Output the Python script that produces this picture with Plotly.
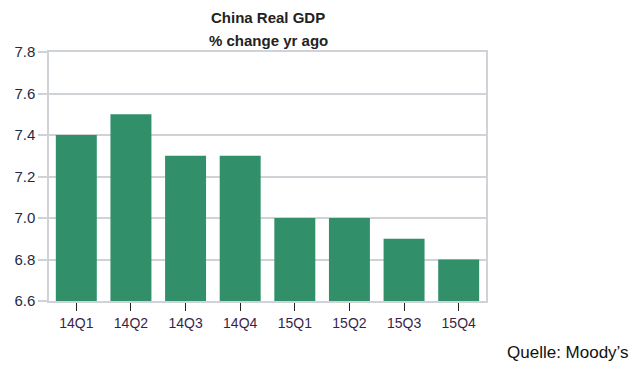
import plotly.graph_objects as go

quarters = ["14Q1", "14Q2", "14Q3", "14Q4", "15Q1", "15Q2", "15Q3", "15Q4"]
gdp_growth = [7.4, 7.5, 7.3, 7.3, 7.0, 7.0, 6.9, 6.8]
y_ticks = [6.6, 6.8, 7.0, 7.2, 7.4, 7.6, 7.8]
y_tick_labels = ["6.6", "6.8", "7.0", "7.2", "7.4", "7.6", "7.8"]
axis_base = 6.6

# page body has an 8px margin: figure is laid out in page pixels minus that offset
OFF = 8
W, H = 639 - OFF, 372 - OFF
L = 49 - OFF
R = 639 - 486
T = 52 - OFF
B = 372 - 301
plot_w = W - L - R
plot_h = H - T - B

def px_to_paper(xp, yp):
    return (xp - OFF - L) / plot_w, 1 - (yp - OFF - T) / plot_h

fig = go.Figure(go.Bar(
    x=quarters, y=[v - axis_base for v in gdp_growth], base=axis_base,
    marker=dict(color="#31906a", line=dict(width=0)),
    hovertext=[str(v) for v in gdp_growth],
))

tx, ty1 = px_to_paper(268, 17)
_, ty2 = px_to_paper(268, 40)
qx, qy = px_to_paper(505, 352)

fig.update_layout(
    width=W, height=H,
    margin=dict(l=L, r=R, t=T, b=B),
    paper_bgcolor="white", plot_bgcolor="white",
    bargap=0.25,
    showlegend=False,
    font=dict(family="Liberation Sans, Arial, sans-serif"),
    xaxis=dict(
        automargin=False,
        showline=True, linecolor="#cfd3d8", linewidth=1.5, mirror=True,
        ticks="outside", ticklen=8, tickcolor="#222222", tickwidth=1,
        tickfont=dict(size=14, color="#3a1f4a"),
        showgrid=False,
    ),
    yaxis=dict(
        automargin=False,
        range=[6.6, 7.8], tickvals=y_ticks, ticktext=y_tick_labels,
        showline=True, linecolor="#cfd3d8", linewidth=1.5, mirror=True,
        ticks="outside", ticklen=9, tickcolor="#cfd3d8", tickwidth=1.5,
        tickfont=dict(size=15, color="#1f2a44"),
        showgrid=True, gridcolor="#cfd3d8", gridwidth=1.5,
        zeroline=False,
    ),
    annotations=[
        dict(text="<b>China Real GDP</b>", x=tx, y=ty1, xref="paper", yref="paper",
             yanchor="middle", showarrow=False, font=dict(size=15, color="#222222")),
        dict(text="<b>% change yr ago</b>", x=tx, y=ty2, xref="paper", yref="paper",
             yanchor="middle", showarrow=False, font=dict(size=15, color="#222222")),
        dict(text="Quelle: Moody\u2019s", x=qx, y=qy, xref="paper", yref="paper",
             xanchor="left", yanchor="middle", showarrow=False,
             font=dict(size=17, color="#111111")),
    ],
)

fig.write_html("out.html")
